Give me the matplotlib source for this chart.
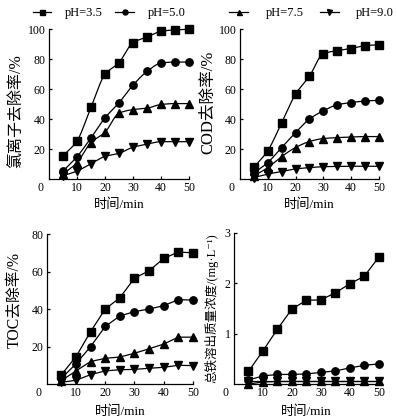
import numpy as np
import matplotlib
matplotlib.use('Agg')
import matplotlib.pyplot as plt

plt.rcParams['font.family'] = ['Liberation Serif', 'Noto Sans CJK SC', 'DejaVu Sans']
plt.rcParams['axes.unicode_minus'] = False

# data
time = [5, 10, 15, 20, 25, 30, 35, 40, 45, 50]
ph_labels = ['pH=3.5', 'pH=5.0', 'pH=7.5', 'pH=9.0']
markers = ['s', 'o', '^', 'v']

cl_removal = [
    [15.4, 25.4, 47.9, 69.7, 77.7, 90.9, 94.7, 98.4, 99.5, 99.8],
    [5.3, 14.9, 27.4, 40.8, 50.8, 62.6, 71.7, 77.3, 78.0, 78.0],
    [3.3, 10.9, 24.3, 31.2, 43.9, 46.3, 47.2, 49.7, 50.3, 50.3],
    [2.2, 5.3, 10.2, 15.1, 17.1, 21.2, 23.2, 24.9, 24.9, 24.9],
]
cod_removal = [
    [7.8, 18.9, 37.6, 56.6, 68.6, 83.6, 85.6, 87.0, 89.0, 89.5],
    [4.0, 11.0, 21.0, 31.0, 40.0, 45.5, 49.5, 51.0, 52.0, 52.5],
    [2.0, 7.6, 15.0, 21.0, 25.0, 27.0, 27.6, 28.0, 28.3, 28.3],
    [1.0, 3.3, 5.0, 6.7, 7.6, 8.2, 8.4, 8.5, 8.5, 8.5],
]
toc_removal = [
    [5.0, 14.6, 28.0, 40.0, 46.0, 56.5, 60.4, 67.0, 70.4, 70.0],
    [3.0, 10.8, 20.0, 30.7, 36.3, 38.6, 40.0, 41.8, 45.0, 44.8],
    [1.8, 7.0, 12.0, 13.7, 14.4, 16.4, 18.8, 21.3, 25.0, 25.0],
    [0.9, 2.0, 5.0, 7.0, 7.6, 7.8, 8.4, 8.9, 10.0, 9.8],
]
fe_conc = [
    [0.25, 0.66, 1.09, 1.49, 1.66, 1.67, 1.81, 1.99, 2.14, 2.52],
    [0.08, 0.16, 0.19, 0.19, 0.20, 0.23, 0.26, 0.32, 0.37, 0.40],
    [0.00, 0.04, 0.05, 0.05, 0.05, 0.05, 0.05, 0.05, 0.05, 0.05],
    [0.05, 0.05, 0.05, 0.05, 0.05, 0.05, 0.05, 0.05, 0.05, 0.05],
]


def smooth_line(x, y, n=300):
    '''monotone cubic hermite through the points, just for drawing'''
    x = np.asarray(x, float)
    y = np.asarray(y, float)
    h = np.diff(x)
    d = np.diff(y) / h
    m = np.zeros_like(y)
    m[0] = d[0]
    m[-1] = d[-1]
    for k in range(1, len(x) - 1):
        if d[k - 1] * d[k] <= 0:
            m[k] = 0.0
        else:
            w1 = 2 * h[k] + h[k - 1]
            w2 = h[k] + 2 * h[k - 1]
            m[k] = (w1 + w2) / (w1 / d[k - 1] + w2 / d[k])
    xs = np.linspace(x[0], x[-1], n)
    idx = np.clip(np.searchsorted(x, xs) - 1, 0, len(x) - 2)
    t = (xs - x[idx]) / h[idx]
    h00 = 2 * t**3 - 3 * t**2 + 1
    h10 = t**3 - 2 * t**2 + t
    h01 = -2 * t**3 + 3 * t**2
    h11 = t**3 - t**2
    ys = h00 * y[idx] + h10 * h[idx] * m[idx] + h01 * y[idx + 1] + h11 * h[idx] * m[idx + 1]
    return xs, ys


def setup_axes(ax, ymax, yticks, ylabel, lab_size, lab_x, lab_y):
    ax.set_xlim(0, 50)
    ax.set_ylim(0, ymax)
    ax.set_xticks([10, 20, 30, 40, 50])
    ax.set_yticks(yticks)
    ax.spines['top'].set_visible(False)
    ax.spines['right'].set_visible(False)
    for s in ('left', 'bottom'):
        ax.spines[s].set_linewidth(0.9)
    ax.tick_params(direction='in', length=2.5, width=0.9, labelsize=8.5, pad=2.5)
    ax.set_xlabel('时间/min', fontsize=9.5)
    ax.xaxis.set_label_coords(0.5, -0.13)
    ax.set_ylabel(ylabel, fontsize=lab_size)
    ax.yaxis.set_label_coords(lab_x, lab_y)
    ax.annotate('0', xy=(0, 0), xycoords='axes fraction', xytext=(-5.8, -6.3),
                textcoords='offset points', ha='center', va='center', fontsize=8.5)


fig = plt.figure(figsize=(3.97, 4.2), dpi=100)
ax1 = fig.add_axes([0.1234, 0.5738, 0.3526, 0.357])
ax2 = fig.add_axes([0.6045, 0.5738, 0.350, 0.357])
ax3 = fig.add_axes([0.1179, 0.0857, 0.368, 0.357])
ax4 = fig.add_axes([0.5894, 0.0857, 0.365, 0.36])

panels = [
    (ax1, cl_removal, True),
    (ax2, cod_removal, True),
    (ax3, toc_removal, False),
    (ax4, fe_conc, False),
]

handles = []
for ax, series, smooth in panels:
    for i, vals in enumerate(series):
        if smooth:
            xs, ys = smooth_line(time, vals)
            ax.plot(xs, ys, color='black', lw=0.9, clip_on=False)
        else:
            ax.plot(time, vals, color='black', lw=0.9, clip_on=False)
        ax.plot(time, vals, ls='none', marker=markers[i], ms=5.3,
                color='black', clip_on=False, zorder=3)
    if ax is ax1:
        for i in range(4):
            h, = ax.plot([], [], color='black', lw=0.9, marker=markers[i], ms=3.6,
                         label=ph_labels[i])
            handles.append(h)

setup_axes(ax1, 100, [20, 40, 60, 80, 100], '氯离子去除率/%', 11.5, -0.18, 0.45)
setup_axes(ax2, 100, [20, 40, 60, 80, 100], 'COD去除率/%', 12, -0.17, 0.51)
setup_axes(ax3, 80, [20, 40, 60, 80], 'TOC去除率/%', 11.3, -0.16, 0.56)
setup_axes(ax4, 3, [1, 2, 3], '总铁溶出质量浓度/(mg·L⁻¹)', 9, -0.11, 0.5)
ax3.xaxis.set_label_coords(0.5, -0.145)
ax4.xaxis.set_label_coords(0.5, -0.145)

fig.legend(handles=handles[:2], loc='center', bbox_to_anchor=(0.275, 0.969), ncol=2,
           frameon=False, fontsize=9, handlelength=1.5, handletextpad=1.1,
           columnspacing=1.0)
fig.legend(handles=handles[2:], loc='center', bbox_to_anchor=(0.785, 0.969), ncol=2,
           frameon=False, fontsize=9, handlelength=1.5, handletextpad=1.4,
           columnspacing=1.3)

fig.savefig('out.png', dpi=100)
